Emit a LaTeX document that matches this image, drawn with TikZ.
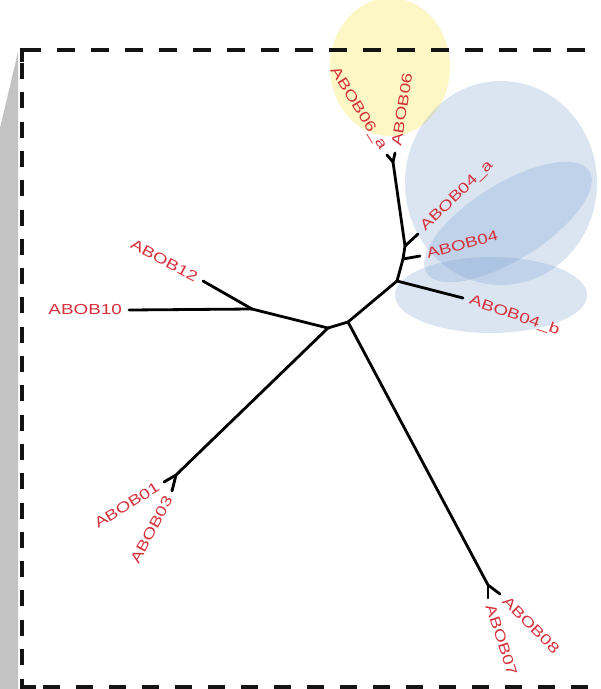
\documentclass[tikz,border=0pt]{standalone}
\usepackage{fontspec}
\setmainfont{Liberation Sans}
\definecolor{taxred}{RGB}{214,48,58}
\definecolor{hullblue}{RGB}{115,155,207}
\definecolor{hullyellow}{RGB}{252,247,196}
\definecolor{foldgray}{RGB}{195,195,195}
\newcommand\widetaxon[1]{\scalebox{1.3}[1]{#1}}
\begin{document}
\begin{tikzpicture}[x=1pt,y=-1pt,
  branch/.style={line width=2.8pt, line cap=round, line join=round, black},
  frameline/.style={line width=4.2pt, black!92},
  taxon/.style={text=taxred, inner xsep=7pt, inner ysep=0pt,
    font=\fontsize{14.5}{14.5}\selectfont},
  bluehull/.style={fill=hullblue, fill opacity=0.25},
]
% canvas
\useasboundingbox (0,0) rectangle (601,689);
\fill[white] (0,0) rectangle (601,689);

% folded page edge on the left
\fill[foldgray] (18,52) -- (0,128) -- (0,689) -- (18,689) -- cycle;

% clade hulls
\fill[hullyellow] (390,67) ellipse [x radius=60pt, y radius=69pt];
\fill[bluehull] (501,183) ellipse [x radius=96pt, y radius=102pt];
\fill[bluehull, rotate around={32:(508,222)}] (508,222) ellipse [x radius=96pt, y radius=38pt];
\fill[bluehull] (491,295) ellipse [x radius=96pt, y radius=38pt];

% dashed frame
\draw[frameline] (22,62) -- (22,50) -- (41,50);
\draw[frameline, dash pattern=on 18pt off 16pt] (57,50) -- (601,50);
\draw[frameline, dash pattern=on 16pt off 13.3pt] (22,63) -- (22,676);
\draw[frameline] (22,679) -- (22,687) -- (36,687);
\draw[frameline, dash pattern=on 17pt off 16pt] (43,687) -- (601,687);

% taxon labels
\node[taxon, anchor=east]             (l10) at (129,310) {\widetaxon{ABOB10}};
\node[taxon, anchor=east, rotate=-28] (l12) at (203,281) {\widetaxon{ABOB12}};
\node[taxon, anchor=east, rotate=32]  (l01) at (164,482) {\widetaxon{ABOB01}};
\node[taxon, anchor=east, rotate=62]  (l03) at (172,491) {\widetaxon{ABOB03}};
\node[taxon, anchor=west, rotate=-72] (l07) at (488,598) {\widetaxon{ABOB07}};
\node[taxon, anchor=west, rotate=-45] (l08) at (500,594) {\widetaxon{ABOB08}};
\node[taxon, anchor=west, rotate=-19] (l4b) at (463,298) {\widetaxon{ABOB04\_b}};
\node[taxon, anchor=west, rotate=15]  (l4)  at (420,256) {\widetaxon{ABOB04}};
\node[taxon, anchor=west, rotate=44]  (l4a) at (418,234) {\widetaxon{ABOB04\_a}};
\node[taxon, anchor=east, rotate=-58] (l6a) at (387,155) {\widetaxon{ABOB06\_a}};
\node[taxon, anchor=west, rotate=81]  (l6)  at (395,153) {\widetaxon{ABOB06}};

% internal nodes of the tree
\coordinate (n12) at (252,309);
\coordinate (j1)  at (328,328);
\coordinate (j2)  at (348,322);
\coordinate (n13) at (176,475);
\coordinate (n78) at (488,585);
\coordinate (n4b) at (397,281);
\coordinate (n4)  at (403,259);
\coordinate (n4a) at (405,246);
\coordinate (n6)  at (393,162);

% branches
\draw[branch] (l10.east) -- (n12);
\draw[branch] (l12.east) -- (n12);
\draw[branch] (n12) -- (j1);
\draw[branch] (j1) -- (j2);
\draw[branch] (j1) -- (n13);
\draw[branch] (n13) -- (l01.east);
\draw[branch] (n13) -- (l03.east);
\draw[branch] (j2) -- (n78);
\draw[branch] (n78) -- (l07.west);
\draw[branch] (n78) -- (l08.west);
\draw[branch] (j2) -- (n4b);
\draw[branch] (n4b) -- (l4b.west);
\draw[branch] (n4b) -- (n4);
\draw[branch] (n4) -- (l4.west);
\draw[branch] (n4) -- (n4a);
\draw[branch] (n4a) -- (l4a.west);
\draw[branch] (n4a) -- (n6);
\draw[branch] (n6) -- (l6a.east);
\draw[branch] (n6) -- (l6.west);
\end{tikzpicture}
\end{document}
